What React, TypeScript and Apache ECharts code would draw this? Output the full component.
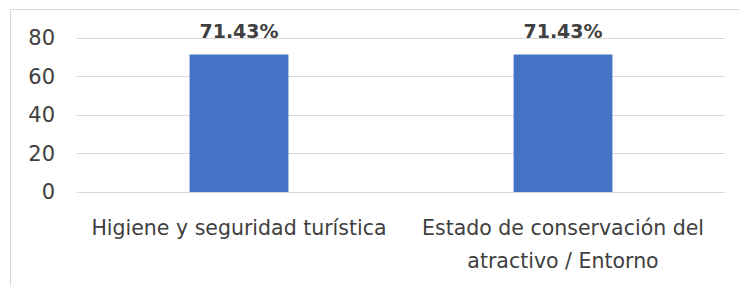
import React, { useEffect, useRef } from "react";
import * as echarts from "echarts";

const categories = ["Higiene y seguridad turística", "Estado de conservación del\natractivo / Entorno"];
const values = [71.43, 71.43];
const yTicks = { min: 0, max: 80, interval: 20 };

export default function App() {
  const ref = useRef<HTMLDivElement>(null);
  useEffect(() => {
    if (!ref.current) return;
    const chart = echarts.init(ref.current, null, { renderer: "svg" });
    const font = "'DejaVu Sans', 'Open Sans', sans-serif";
    chart.setOption({
      animation: false,
      backgroundColor: "#ffffff",
      graphic: [
        {
          type: "rect",
          shape: { x: 10.5, y: 9.5, width: 760, height: 300 },
          style: { fill: "none", stroke: "#d9d9d9", lineWidth: 1 },
          silent: true,
        },
      ],
      grid: { left: 77, right: 14, top: 38, bottom: 94 },
      xAxis: {
        type: "category",
        data: categories,
        axisLine: { show: false },
        axisTick: { show: false },
        axisLabel: {
          interval: 0,
          color: "#404040",
          fontFamily: font,
          fontSize: 20.5,
          lineHeight: 33,
          margin: 19,
        },
      },
      yAxis: {
        type: "value",
        min: yTicks.min,
        max: yTicks.max,
        interval: yTicks.interval,
        axisLine: { show: false },
        axisTick: { show: false },
        axisLabel: { color: "#404040", fontFamily: font, fontSize: 21, margin: 22 },
        splitLine: { lineStyle: { color: "#d9d9d9", width: 1 } },
      },
      series: [
        {
          type: "bar",
          data: values,
          barWidth: "30.5%",
          itemStyle: { color: "#4472c4" },
          label: {
            show: true,
            position: "top",
            distance: 14,
            formatter: (p: any) => p.value.toFixed(2) + "%",
            color: "#404040",
            fontWeight: "bold",
            fontFamily: font,
            fontSize: 19,
          },
        },
      ],
    });
    return () => chart.dispose();
  }, []);
  return (
    <div
      ref={ref}
      style={{ position: "absolute", left: 0, top: 0, width: 739, height: 286 }}
    />
  );
}
